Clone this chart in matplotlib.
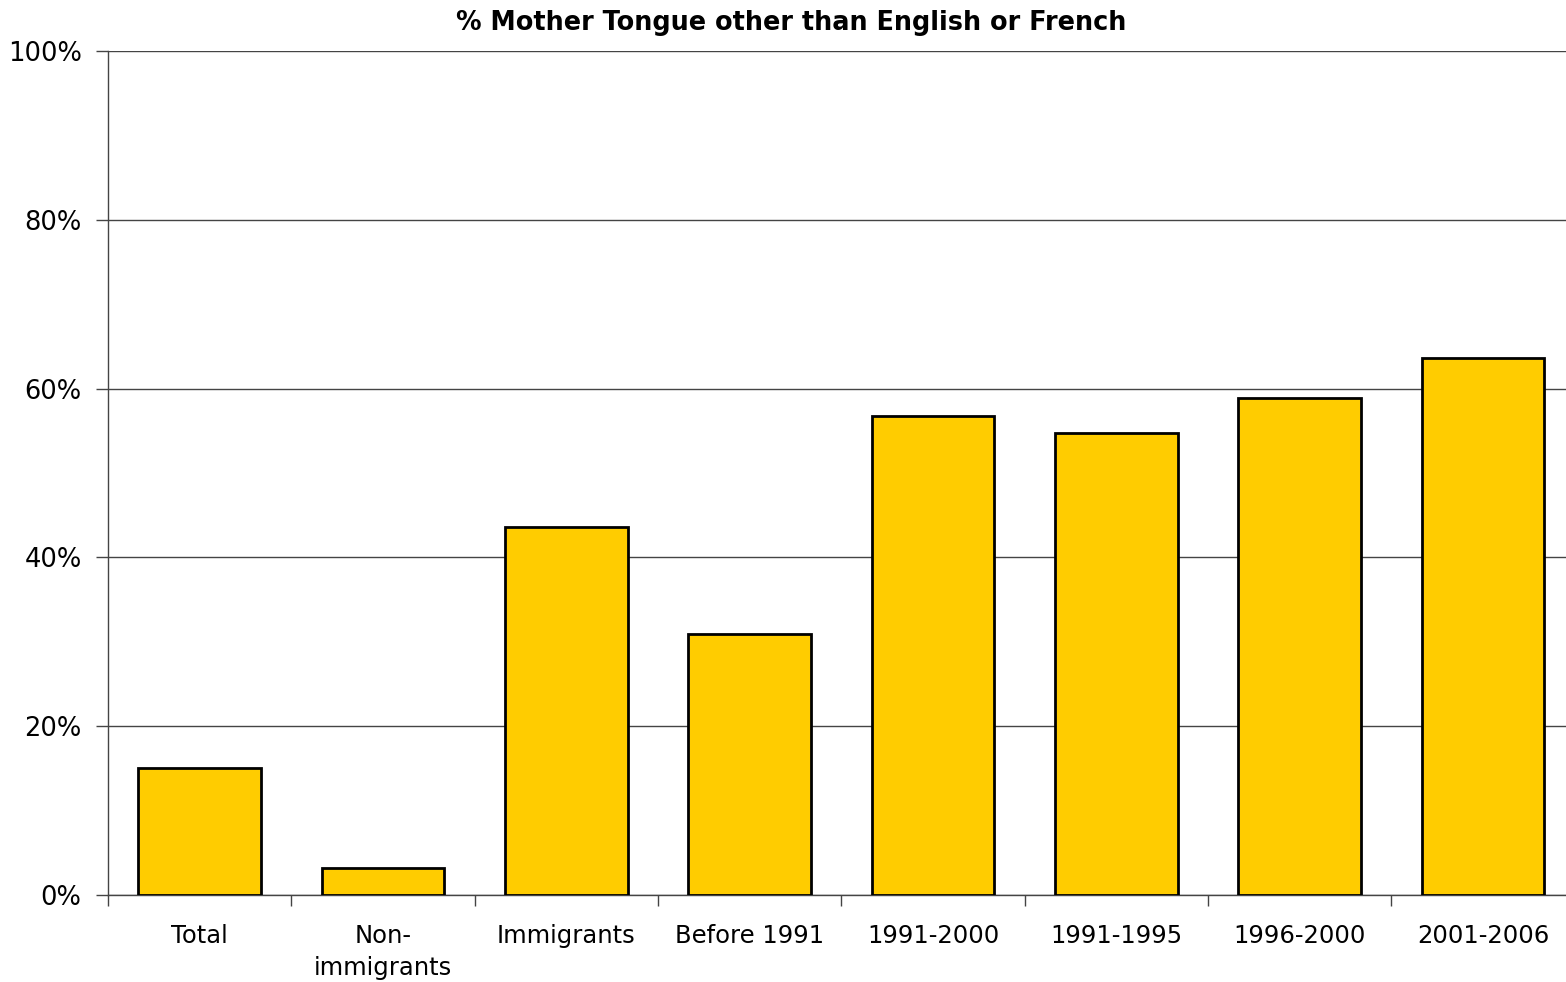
import numpy as np
import matplotlib.pyplot as plt
from matplotlib.ticker import FuncFormatter, FixedLocator

# data
categories = ["Total", "Non-\nimmigrants", "Immigrants", "Before 1991",
              "1991-2000", "1991-1995", "1996-2000", "2001-2006"]
values = [15.0, 3.2, 43.6, 30.9, 56.8, 54.7, 58.9, 63.6]

plt.rcParams['font.family'] = ['DejaVu Sans']

fig = plt.figure(figsize=(15.66, 9.82), dpi=100)
# axes spans a bit past the right edge, as in the original
ax = fig.add_axes([108/1566, 1 - 895/982, 1466.6/1566, 844/982])

x = np.arange(len(categories))
ax.bar(x, values, width=0.67, color='#FFCC00', edgecolor='black', linewidth=2, zorder=3)

ax.set_xlim(-0.5, len(categories) - 0.5)
ax.set_ylim(0, 100)
ax.set_yticks(np.arange(0, 101, 20))
ax.yaxis.set_major_formatter(FuncFormatter(lambda v, p: f"{v:.0f}%"))
ax.yaxis.grid(True, color='#444444', linewidth=1, zorder=0)

# category boundaries as ticks, labels at centres
ax.xaxis.set_major_locator(FixedLocator(np.arange(-0.5, len(categories) + 0.5, 1)))
ax.set_xticklabels([])
ax.set_xticks(x, minor=True)
ax.set_xticklabels(categories, minor=True, fontsize=17.5, va='top', linespacing=1.4)
ax.tick_params(axis='x', which='minor', length=0, pad=21)
ax.tick_params(axis='x', which='major', length=8, width=1, color='#444444', direction='out')
ax.tick_params(axis='y', length=9, width=1, color='#444444', labelsize=18.5, pad=10)

for s in ['top', 'right']:
    ax.spines[s].set_visible(False)
for s in ['left', 'bottom']:
    ax.spines[s].set_color('#444444')
    ax.spines[s].set_linewidth(1)

fig.text(791/1566, 1 - 23/982, "% Mother Tongue other than English or French",
         ha='center', va='center', fontsize=18.4, fontweight='bold')

fig.savefig('out.png', dpi=100)
